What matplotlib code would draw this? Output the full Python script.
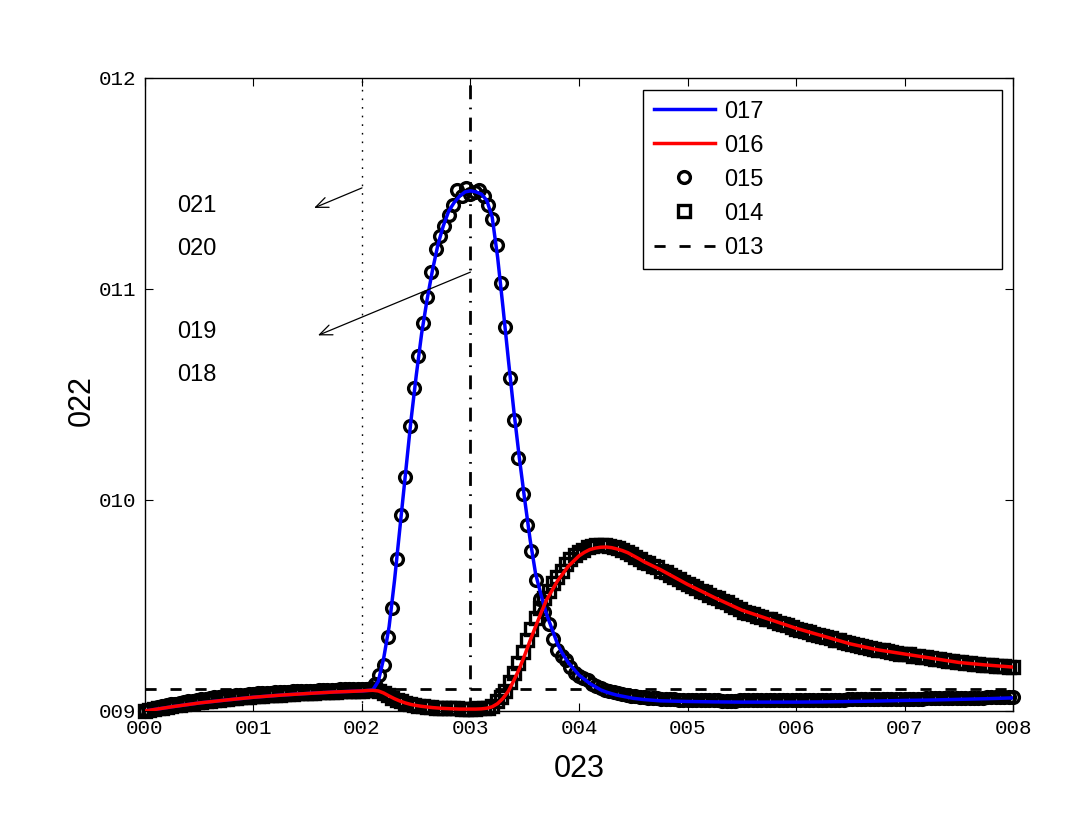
import matplotlib
matplotlib.use('Agg')
import matplotlib.pyplot as plt
import numpy as np

plt.rcParams['font.family'] = ['Liberation Sans', 'DejaVu Sans']

# rejilla de las curvas (mas fina en la zona del pico)
x_fit = np.round(np.r_[0:2.0:0.25, 2.0:4.6001:0.05, 4.75:8.001:0.25], 2)
# rejilla de las medidas
x_med = np.round(np.linspace(0, 8, 201), 2)

modelo_azul = [9.000, 9.020, 9.038, 9.052, 9.065, 9.075, 9.083, 9.090, 9.095,
               9.097, 9.100, 9.140, 9.250, 9.400, 9.620, 9.870, 10.12, 10.37, 10.59,
               10.79, 10.95, 11.09, 11.21, 11.30, 11.37, 11.41, 11.44, 11.46, 11.465,
               11.46, 11.45, 11.42, 11.34, 11.15, 10.91, 10.66, 10.42, 10.20, 10.00,
               9.810, 9.650, 9.550, 9.460, 9.390, 9.320, 9.270, 9.230, 9.200, 9.170,
               9.150, 9.130, 9.115, 9.100, 9.090, 9.082, 9.075, 9.070, 9.065, 9.060,
               9.057, 9.054,
               9.048, 9.045, 9.043, 9.042, 9.042, 9.042, 9.043, 9.045, 9.047, 9.050,
               9.052, 9.055, 9.058, 9.062]

modelo_rojo = [9.000, 9.020, 9.038, 9.052, 9.065, 9.075, 9.083, 9.090, 9.095,
               9.097, 9.098, 9.095, 9.085, 9.071, 9.058, 9.047, 9.038, 9.031, 9.026,
               9.022, 9.019, 9.016, 9.014, 9.012, 9.011, 9.010, 9.009, 9.009, 9.009,
               9.009, 9.010, 9.013, 9.020, 9.035, 9.060, 9.095, 9.145, 9.200, 9.265,
               9.335, 9.400, 9.465, 9.525, 9.570, 9.615, 9.650, 9.685, 9.710, 9.735,
               9.752, 9.765, 9.772, 9.776, 9.777, 9.774, 9.768, 9.760, 9.750, 9.736,
               9.722, 9.707,
               9.670, 9.600, 9.537, 9.478, 9.435, 9.392, 9.355, 9.318, 9.290, 9.270,
               9.250, 9.230, 9.218, 9.208]

datos_circ = [9.000, 9.006, 9.012, 9.017, 9.022, 9.027, 9.031, 9.035, 9.039, 9.043,
              9.046, 9.049, 9.053, 9.056, 9.059, 9.061, 9.064, 9.066, 9.069, 9.071,
              9.073, 9.075, 9.077, 9.078, 9.080, 9.082, 9.083, 9.085, 9.086, 9.087,
              9.088, 9.090, 9.091, 9.092, 9.093, 9.094, 9.095, 9.096, 9.097, 9.097,
              9.098, 9.099, 9.100, 9.101, 9.101, 9.102, 9.103, 9.104, 9.104, 9.105,
              9.105, 9.106, 9.108, 9.130, 9.170, 9.220, 9.350, 9.490, 9.720, 9.930,
              10.11, 10.35, 10.53, 10.68, 10.84, 10.96, 11.08, 11.19, 11.25, 11.30,
              11.35, 11.40, 11.47, 11.44, 11.48, 11.45, 11.46, 11.47, 11.44, 11.40,
              11.33, 11.21, 11.03, 10.82, 10.58, 10.38, 10.20, 10.03, 9.880, 9.760,
              9.620, 9.530, 9.470, 9.410, 9.340, 9.290, 9.260, 9.240, 9.210, 9.180,
              9.165, 9.155, 9.145, 9.130, 9.120, 9.110, 9.100, 9.095, 9.090, 9.085,
              9.080, 9.075, 9.072, 9.070, 9.067, 9.065, 9.063, 9.061, 9.060, 9.058,
              9.057, 9.056, 9.055, 9.054, 9.054, 9.053, 9.052, 9.052, 9.051, 9.051,
              9.050, 9.050, 9.050, 9.049, 9.049, 9.049, 9.049, 9.050, 9.050, 9.050,
              9.050, 9.050, 9.050, 9.050, 9.051, 9.051, 9.051, 9.051, 9.051, 9.052,
              9.052, 9.052, 9.052, 9.052, 9.053, 9.053, 9.053, 9.053, 9.054, 9.054,
              9.054, 9.054, 9.055, 9.055, 9.055, 9.055, 9.056, 9.056, 9.056, 9.056,
              9.057, 9.057, 9.057, 9.058, 9.058, 9.058, 9.058, 9.059, 9.059, 9.059,
              9.060, 9.060, 9.060, 9.060, 9.061, 9.061, 9.061, 9.062, 9.062, 9.062,
              9.062, 9.063, 9.063, 9.063, 9.064, 9.064, 9.064, 9.065, 9.065, 9.065,
              9.066]

datos_cuad = [9.000, 9.004, 9.008, 9.012, 9.016, 9.020, 9.024, 9.027, 9.030, 9.033,
              9.036, 9.039, 9.042, 9.044, 9.047, 9.049, 9.052, 9.054, 9.056, 9.058,
              9.060, 9.062, 9.064, 9.066, 9.068, 9.069, 9.071, 9.072, 9.074, 9.075,
              9.077, 9.078, 9.079, 9.080, 9.082, 9.083, 9.084, 9.085, 9.086, 9.087,
              9.088, 9.089, 9.090, 9.091, 9.092, 9.093, 9.094, 9.095, 9.096, 9.096,
              9.097, 9.098, 9.099, 9.098, 9.094, 9.086, 9.075, 9.063, 9.054, 9.046,
              9.039, 9.033, 9.028, 9.025, 9.022, 9.020, 9.018, 9.016, 9.015, 9.014,
              9.013, 9.012, 9.012, 9.011, 9.011, 9.011, 9.011, 9.012, 9.013, 9.016,
              9.024, 9.045, 9.067, 9.095, 9.135, 9.178, 9.226, 9.280, 9.335, 9.387,
              9.440, 9.489, 9.534, 9.570, 9.606, 9.636, 9.664, 9.695, 9.720, 9.740,
              9.755, 9.765, 9.775, 9.782, 9.785, 9.786, 9.786, 9.782, 9.778, 9.771,
              9.763, 9.752, 9.742, 9.730, 9.720, 9.705, 9.700, 9.688, 9.680, 9.665,
              9.658, 9.645, 9.636, 9.625, 9.610, 9.603, 9.590, 9.582, 9.568, 9.562,
              9.550, 9.541, 9.535, 9.520, 9.515, 9.500, 9.492, 9.485, 9.470, 9.466,
              9.460, 9.450, 9.446, 9.436, 9.434, 9.425, 9.418, 9.410, 9.406, 9.398,
              9.390, 9.386, 9.378, 9.375, 9.366, 9.362, 9.356, 9.350, 9.346, 9.338,
              9.335, 9.328, 9.322, 9.318, 9.312, 9.309, 9.302, 9.298, 9.295, 9.290,
              9.287, 9.284, 9.278, 9.276, 9.272, 9.270, 9.268, 9.262, 9.260, 9.256,
              9.254, 9.250, 9.248, 9.244, 9.241, 9.238, 9.236, 9.232, 9.230, 9.228,
              9.226, 9.223, 9.222, 9.219, 9.218, 9.216, 9.214, 9.212, 9.211, 9.210,
              9.209]

umbral = 9.105      # linea horizontal discontinua
x_punteada = 2.0    # linea vertical punteada
x_rayapunto = 3.0   # linea vertical raya-punto

etiquetas = ['017', '016', '015', '014', '013']
textos = ['021', '020', '019', '018']
textos_y = [11.393, 11.19, 10.796, 10.592]
xticks_lab = ['000', '001', '002', '003', '004', '005', '006', '007', '008']
yticks_lab = ['009', '010', '011', '012']

fig = plt.figure(figsize=(10.86, 8.19), dpi=100)
ax = fig.add_axes([0.1335, 0.1319, 0.7993, 0.7729])

h_circ, = ax.plot(x_med, datos_circ, 'o', mfc='none', mec='k', ms=8.5, mew=2.4,
                  clip_on=False, zorder=2)
h_cuad, = ax.plot(x_med, datos_cuad, 's', mfc='none', mec='k', ms=8, mew=2.4,
                  clip_on=False, zorder=2)
h_azul, = ax.plot(x_fit, modelo_azul, color='b', lw=2.5, zorder=3)
h_rojo, = ax.plot(x_fit, modelo_rojo, color='r', lw=2.5, zorder=4)
h_umb = ax.axhline(umbral, color='k', lw=2, ls=(0, (4, 5)), zorder=2.5)
ax.axvline(x_punteada, color='k', lw=1, ls=(0, (1.2, 5)), zorder=1)
ax.axvline(x_rayapunto, color='k', lw=2, ls=(0, (5, 3, 0.6, 3)), zorder=1)

# textos y flechas
for t, yy in zip(textos, textos_y):
    ax.text(0.30, yy, t, fontsize=17, va='center', ha='left')
ax.annotate('', xy=(1.558, 11.384), xytext=(2.0, 11.479),
            arrowprops=dict(arrowstyle='->,head_length=0.6,head_width=0.25',
                            mutation_scale=15, color='k', lw=0.9, shrinkA=0, shrinkB=0))
ax.annotate('', xy=(1.594, 10.78), xytext=(3.0, 11.08),
            arrowprops=dict(arrowstyle='->,head_length=0.6,head_width=0.25',
                            mutation_scale=15, color='k', lw=0.9, shrinkA=0, shrinkB=0))

ax.set_xlim(0, 8)
ax.set_ylim(9, 12)
ax.set_xticks(range(9))
ax.set_xticklabels(xticks_lab, fontfamily='Liberation Mono', fontsize=15)
ax.set_yticks([9, 10, 11, 12])
ax.set_yticklabels(yticks_lab, fontfamily='Liberation Mono', fontsize=15)
ax.tick_params(direction='in', top=True, right=True, length=6, width=0.8, pad=6)
for s in ax.spines.values():
    s.set_linewidth(1)
ax.set_xlabel('023', fontsize=22)
ax.set_ylabel('022', fontsize=22)
ax.xaxis.set_label_coords(0.5, -0.068)
ax.yaxis.set_label_coords(-0.055, 0.49)

leg = ax.legend([h_azul, h_rojo, h_circ, h_cuad, h_umb], etiquetas, loc='upper left',
                bbox_to_anchor=(0.5737, 0.7046, 0.4136, 0.2764), mode='expand',
                borderaxespad=0, fontsize=17, handlelength=2.6, handletextpad=0.4,
                labelspacing=0.51, borderpad=0.45, fancybox=False, edgecolor='k',
                framealpha=1, numpoints=1)
leg.get_frame().set_linewidth(1)

plt.savefig('out.png', dpi=100)
